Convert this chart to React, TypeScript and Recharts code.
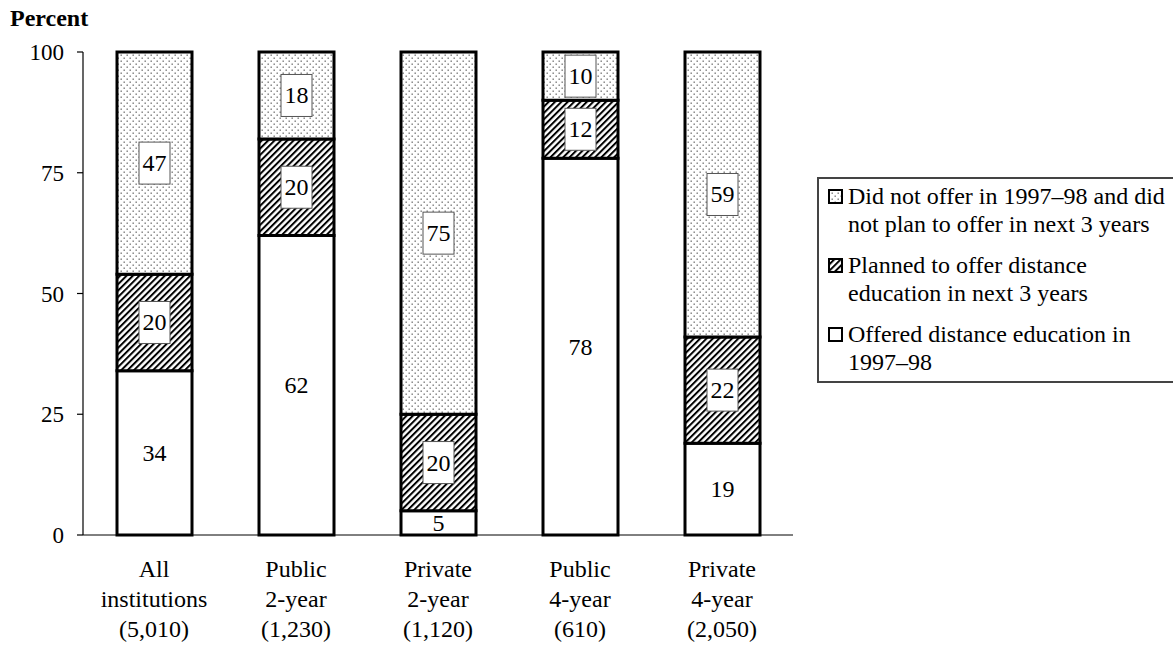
import React from "react";
import { BarChart, Bar, XAxis, YAxis, LabelList, Legend } from "recharts";

const FONT = '"Liberation Serif", "Times New Roman", Times, serif';
const FS = 24;
const TICK_FS = 23;

// ---- data ----
const categories = [
  "All institutions (5,010)",
  "Public 2-year (1,230)",
  "Private 2-year (1,120)",
  "Public 4-year (610)",
  "Private 4-year (2,050)",
];
const categoryLines = [
  ["All", "institutions", "(5,010)"],
  ["Public", "2-year", "(1,230)"],
  ["Private", "2-year", "(1,120)"],
  ["Public", "4-year", "(610)"],
  ["Private", "4-year", "(2,050)"],
];
// bar segment heights as drawn
const offered = [34, 62, 5, 78, 19];
const planned = [20, 20, 20, 12, 22];
const notPlanned = [46, 18, 75, 10, 59];
// printed labels
const offeredLabels = [34, 62, 5, 78, 19];
const plannedLabels = [20, 20, 20, 12, 22];
const notPlannedLabels = [47, 18, 75, 10, 59];

const yTicks = [0, 25, 50, 75, 100];

const legendLines = [
  { key: "notPlanned", fill: "url(#dotsPat)", lines: ["Did not offer in 1997–98 and did", "not plan to offer in next 3 years"] },
  { key: "planned", fill: "url(#hatchPat)", lines: ["Planned to offer distance", "education in next 3 years"] },
  { key: "offered", fill: "#ffffff", lines: ["Offered distance education in", "1997–98"] },
];

const data = categories.map((c, i) => ({
  name: c,
  offered: offered[i],
  planned: planned[i],
  notPlanned: notPlanned[i],
  offeredLabel: offeredLabels[i],
  plannedLabel: plannedLabels[i],
  notPlannedLabel: notPlannedLabels[i],
}));

const CategoryTick = (props: any) => {
  const { x, y, payload } = props;
  const idx = categories.indexOf(payload.value);
  const lines = idx >= 0 ? categoryLines[idx] : [String(payload.value)];
  return (
    <g>
      {lines.map((l: string, i: number) => (
        <text key={i} x={x} y={y + 42 + i * 30} textAnchor="middle" fontFamily={FONT} fontSize={FS} fill="#000">
          {l}
        </text>
      ))}
    </g>
  );
};

const BoxLabel = (props: any) => {
  const { x, y, width, height, value } = props;
  const cx = Number(x) + Number(width) / 2;
  const cy = Number(y) + Number(height) / 2;
  return (
    <g>
      <rect x={cx - 15.5} y={cy - 21} width={31} height={42} fill="#fff" stroke="#555" strokeWidth={1} />
      <text x={cx} y={cy} textAnchor="middle" dominantBaseline="central" fontFamily={FONT} fontSize={FS} fill="#000">
        {value}
      </text>
    </g>
  );
};

const PlainLabel = (props: any) => {
  const { x, y, width, height, value } = props;
  const cx = Number(x) + Number(width) / 2;
  const cy = Number(y) + Number(height) / 2;
  return (
    <text x={cx} y={cy} textAnchor="middle" dominantBaseline="central" fontFamily={FONT} fontSize={FS} fill="#000">
      {value}
    </text>
  );
};

const LegendBox = () => (
  <div
    style={{
      width: 360,
      height: 206,
      boxSizing: "border-box",
      borderTop: "2px solid #444",
      borderLeft: "2px solid #444",
      borderBottom: "2px solid #444",
      paddingTop: 3,
      paddingLeft: 9,
      fontFamily: FONT,
      fontSize: FS,
      lineHeight: "28px",
      color: "#000",
      background: "transparent",
    }}
  >
    {legendLines.map((item, i) => (
      <div key={item.key} style={{ display: "flex", alignItems: "flex-start", marginBottom: i < 2 ? 13 : 0 }}>
        <svg width={15} height={15} style={{ marginTop: 7, flex: "none" }}>
          <rect x={1} y={1} width={13} height={13} fill={item.fill} stroke="#000" strokeWidth={2} />
        </svg>
        <div style={{ marginLeft: 5, whiteSpace: "nowrap" }}>
          {item.lines.map((l, j) => (
            <div key={j}>{l}</div>
          ))}
        </div>
      </div>
    ))}
  </div>
);

const PercentLabel = (props: any) => {
  const vb = props.viewBox || { x: 0, y: 52 };
  return (
    <text x={vb.x + 10} y={vb.y - 26} fontFamily={FONT} fontSize={FS} fontWeight="bold" fill="#000">
      Percent
    </text>
  );
};

export default function App() {
  return (
    <div style={{ position: "absolute", left: 0, top: 0, width: 1173, height: 647, background: "#fff" }}>
      <BarChart
        width={1173}
        height={647}
        data={data}
        margin={{ top: 52, right: 380, bottom: 12, left: 0 }}
        barSize={75}
      >
        <defs>
          <pattern id="dotsPat" width={6} height={6} patternUnits="userSpaceOnUse">
            <rect x={0} y={0} width={6} height={6} fill="#fff" />
            <rect x={0.5} y={0.5} width={1.4} height={1.4} fill="#777" />
            <rect x={3.5} y={3.5} width={1.4} height={1.4} fill="#777" />
          </pattern>
          <pattern id="hatchPat" width={4.5} height={4.5} patternUnits="userSpaceOnUse" patternTransform="rotate(45)">
            <rect x={0} y={0} width={4.5} height={4.5} fill="#fff" />
            <rect x={0} y={0} width={2} height={4.5} fill="#000" />
          </pattern>
        </defs>
        <XAxis
          dataKey="name"
          height={100}
          tickLine={false}
          tickSize={0}
          tickMargin={0}
          axisLine={{ stroke: "#000", strokeWidth: 1 }}
          tick={<CategoryTick />}
          interval={0}
        />
        <YAxis
          width={83}
          domain={[0, 100]}
          ticks={yTicks}
          tickSize={6}
          tickMargin={13}
          axisLine={{ stroke: "#000", strokeWidth: 1.2 }}
          tickLine={{ stroke: "#000", strokeWidth: 1.2 }}
          tick={{ fontFamily: FONT, fontSize: TICK_FS, fill: "#000" }}
          label={{ content: <PercentLabel /> }}
        />
        <Legend
          layout="vertical"
          align="center"
          verticalAlign="middle"
          wrapperStyle={{ left: 817, top: 177, width: 360, height: 206 }}
          content={<LegendBox />}
        />
        <Bar dataKey="offered" stackId="a" fill="#fff" stroke="#000" strokeWidth={3} isAnimationActive={false}>
          <LabelList dataKey="offeredLabel" content={<PlainLabel />} />
        </Bar>
        <Bar dataKey="planned" stackId="a" fill="url(#hatchPat)" stroke="#000" strokeWidth={3} isAnimationActive={false}>
          <LabelList dataKey="plannedLabel" content={<BoxLabel />} />
        </Bar>
        <Bar dataKey="notPlanned" stackId="a" fill="url(#dotsPat)" stroke="#000" strokeWidth={3} isAnimationActive={false}>
          <LabelList dataKey="notPlannedLabel" content={<BoxLabel />} />
        </Bar>
      </BarChart>
    </div>
  );
}
